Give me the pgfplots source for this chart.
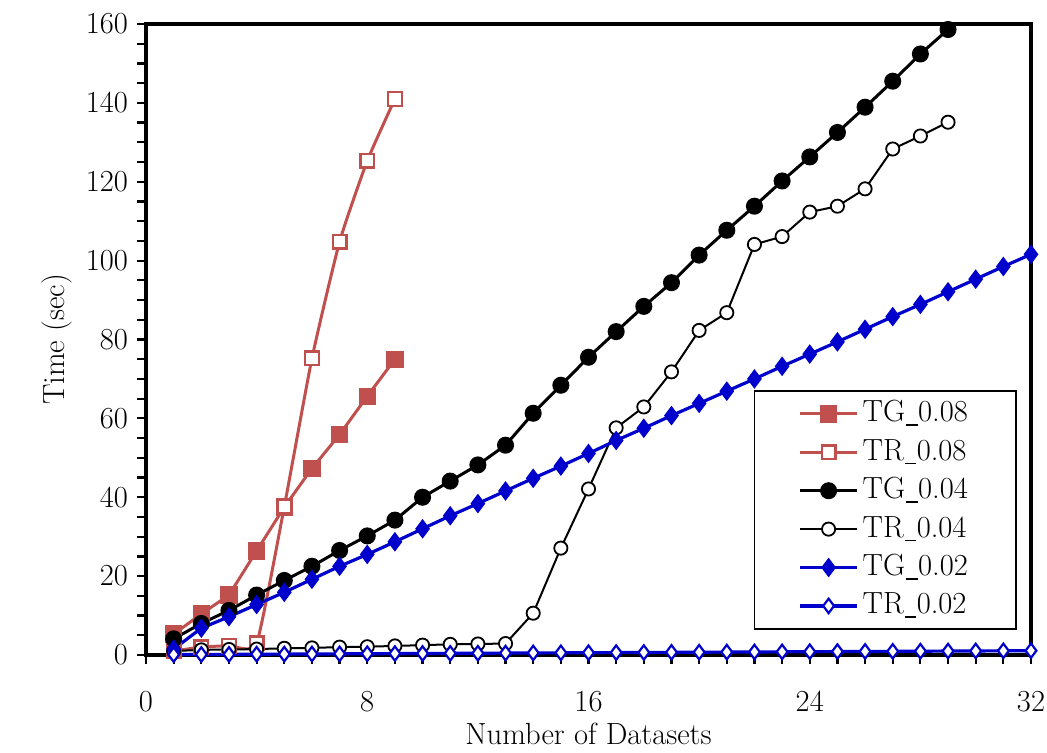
\documentclass[border=0pt]{standalone}
\usepackage{fontspec}
\usepackage{pgfplots}
\pgfplotsset{compat=1.18}
\definecolor{exred}{RGB}{192,80,77}
\definecolor{exblue}{RGB}{0,0,204}
\newcommand{\cf}{\fontsize{15.3}{18}\selectfont}
\newcommand{\us}{\kern0.02em\rule[-2pt]{0.38em}{0.8pt}\kern0.02em}
\begin{document}
\begin{tikzpicture}
\begin{axis}[
  name=ax,
  scale only axis,
  width=442.5pt, height=315.5pt,
  xmin=0, xmax=32, ymin=0, ymax=160,
  xtick={0,8,16,24,32}, minor x tick num=7,
  ytick={0,20,...,160}, minor y tick num=3,
  tick pos=left, tick align=outside,
  major tick length=4.5pt, minor tick length=4.5pt,
  tick style={line width=1.1pt, black},
  axis line style={line width=1.7pt},
  /pgf/number format/assume math mode=true,
  tick label style={font=\cf},
  xticklabel style={yshift=-10pt},
  yticklabel style={xshift=-1pt},
  label style={font=\cf},
  xlabel={Number of Datasets},
  xlabel style={yshift=1pt},
  ylabel={Time (sec)},
  clip=false,
  legend cell align=left,
  legend style={at={(rel axis cs:0.984,0.0396)}, anchor=south east,
    font=\cf, draw=black, line width=0.9pt, inner xsep=22pt, inner ysep=2pt,
    nodes={text height=11pt, text depth=3pt, inner ysep=2.6pt}},
  legend image code/.code={\draw[mark repeat=2,mark phase=2] plot coordinates {(-0.05cm,0cm)(0.45cm,0cm)(0.95cm,0cm)};},
]
\addplot[exred, line width=1.5pt, mark=square*, mark size=3.6pt, mark options={solid, fill=exred}] coordinates {
(1,5.3)(2,10.4)(3,15.2)(4,26.4)(5,37.5)(6,47.3)(7,55.9)(8,65.6)(9,75.0)};
\addlegendentry{TG\us0.08}
\addplot[exred, line width=1.5pt, smooth, tension=0.3, mark=square*, mark size=3.4pt, mark options={solid, fill=white, line width=1.2pt}] coordinates {
(1,1.0)(2,2.0)(3,2.4)(4,3.0)(5,37.6)(6,75.2)(7,104.8)(8,125.3)(9,141.0)};
\addlegendentry{TR\us0.08}
\addplot[black, line width=1.5pt, mark=*, mark size=3.5pt, mark options={solid, fill=black}] coordinates {
(1,4.1)(2,8.0)(3,11.3)(4,15.2)(5,18.9)(6,22.5)(7,26.5)(8,30.2)(9,34.2)(10,40.0)
(11,44.1)(12,48.2)(13,53.2)(14,61.3)(15,68.4)(16,75.5)(17,82.0)(18,88.4)(19,94.4)(20,101.4)
(21,107.7)(22,113.8)(23,120.2)(24,126.3)(25,132.5)(26,138.9)(27,145.5)(28,152.4)(29,158.6)};
\addlegendentry{TG\us0.04}
\addplot[black, line width=1.0pt, mark=*, mark size=3.3pt, mark options={solid, fill=white, line width=0.9pt}] coordinates {
(1,1.0)(2,1.3)(3,1.4)(4,1.5)(5,1.7)(6,1.8)(7,2.0)(8,2.1)(9,2.3)(10,2.5)
(11,2.7)(12,2.8)(13,2.9)(14,10.6)(15,27.1)(16,42.1)(17,57.6)(18,62.9)(19,71.8)(20,82.3)
(21,86.8)(22,104.1)(23,106.1)(24,112.3)(25,113.8)(26,118.2)(27,128.3)(28,131.6)(29,135.1)};
\addlegendentry{TR\us0.04}
\addplot[exblue, line width=1.6pt, mark=diamond*, mark size=3.6pt, mark options={solid, fill=exblue}] coordinates {
(1,1.5)(2,6.8)(3,9.7)(4,12.8)(5,15.9)(6,19.2)(7,22.5)(8,25.5)(9,28.7)(10,32.0)
(11,35.3)(12,38.4)(13,41.6)(14,44.8)(15,47.9)(16,51.1)(17,54.4)(18,57.5)(19,60.7)(20,63.8)
(21,66.9)(22,70.0)(23,73.2)(24,76.3)(25,79.4)(26,82.6)(27,85.8)(28,88.9)(29,92.1)(30,95.3)
(31,98.5)(32,101.6)};
\addlegendentry{TG\us0.02}
\addplot[exblue, line width=1.6pt, mark=diamond*, mark size=3.6pt, mark options={solid, fill=white, line width=1.1pt}] coordinates {
(1,0.10)(2,0.13)(3,0.16)(4,0.20)(5,0.23)(6,0.26)(7,0.29)(8,0.32)(9,0.36)(10,0.39)
(11,0.42)(12,0.45)(13,0.48)(14,0.52)(15,0.55)(16,0.58)(17,0.61)(18,0.64)(19,0.68)(20,0.71)
(21,0.74)(22,0.77)(23,0.80)(24,0.84)(25,0.87)(26,0.90)(27,0.93)(28,0.96)(29,1.00)(30,1.03)
(31,1.06)(32,1.10)};
\addlegendentry{TR\us0.02}
\end{axis}
\pgfresetboundingbox
\path[use as bounding box] ([xshift=-73pt,yshift=-49pt]ax.south west) rectangle ([xshift=8pt,yshift=12pt]ax.north east);
\end{tikzpicture}
\end{document}
